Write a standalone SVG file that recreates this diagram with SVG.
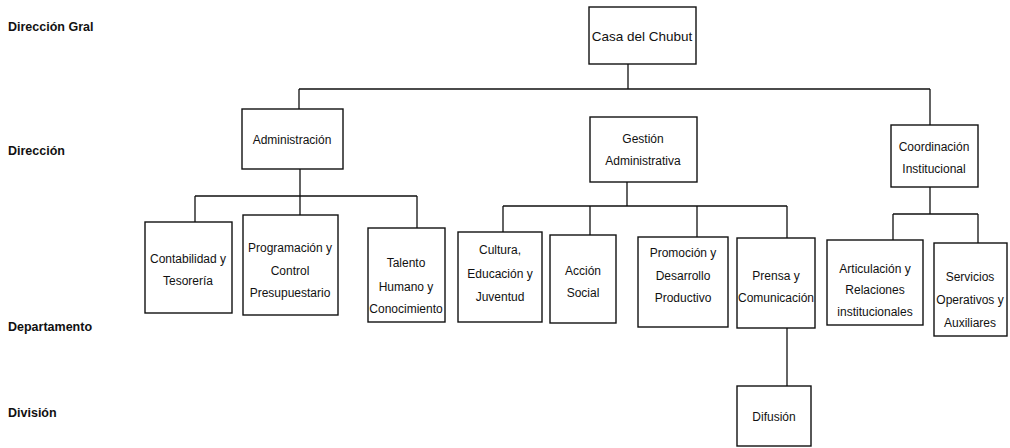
<svg xmlns="http://www.w3.org/2000/svg" width="1010" height="448" viewBox="0 0 1010 448">
<style>
.bx{fill:#fff;stroke:#111;stroke-width:1.4}
.ln{fill:none;stroke:#111;stroke-width:1.3}
.t{font-family:"Liberation Sans",Arial,sans-serif;font-size:12px;fill:#111;text-anchor:middle}
.lv{font-family:"Liberation Sans",Arial,sans-serif;font-size:12.5px;font-weight:bold;fill:#111}
</style>
<rect width="1010" height="448" fill="#fff"/>
<g id="levels">
<text class="lv" x="8" y="31">Dirección Gral</text>
<text class="lv" x="8" y="155">Dirección</text>
<text class="lv" x="8" y="331">Departamento</text>
<text class="lv" x="8" y="417">División</text>
</g>
<g id="connectors">
<path class="ln" d="M628 64V89M299 89H930M299 89V109M930 89V125"/>
<path class="ln" d="M300 169V196M195 196H417M195 196V222M300 196V215M417 196V228"/>
<path class="ln" d="M627 182V206M503 206H787M503 206V232M590 206V235M697 206V237M787 206V238"/>
<path class="ln" d="M930 187V214M893 214H978M893 214V240M978 214V243"/>
<path class="ln" d="M787 328V386"/>
</g>
<g id="casa"><rect class="bx" x="589" y="7" width="107" height="57"/><text class="t" x="642" y="41" style="font-size:13.5px">Casa del Chubut</text></g>
<g id="administracion"><rect class="bx" x="242" y="109" width="101" height="60"/><text class="t" x="292" y="144">Administración</text></g>
<g id="gestion"><rect class="bx" x="590" y="117" width="107" height="65"/><text class="t" x="643" y="143">Gestión</text><text class="t" x="643" y="165">Administrativa</text></g>
<g id="coordinacion"><rect class="bx" x="891" y="125" width="87" height="62"/><text class="t" x="934" y="151">Coordinación</text><text class="t" x="934" y="173">Institucional</text></g>
<g id="contabilidad"><rect class="bx" x="145" y="222" width="87" height="91"/><text class="t" x="188" y="263">Contabilidad y</text><text class="t" x="188" y="285">Tesorería</text></g>
<g id="programacion"><rect class="bx" x="243" y="215" width="95" height="100"/><text class="t" x="290" y="252">Programación y</text><text class="t" x="290" y="275">Control</text><text class="t" x="290" y="297">Presupuestario</text></g>
<g id="talento"><rect class="bx" x="368" y="228" width="77" height="94"/><text class="t" x="406" y="267">Talento</text><text class="t" x="406" y="291">Humano y</text><text class="t" x="406" y="313">Conocimiento</text></g>
<g id="cultura"><rect class="bx" x="458" y="232" width="84" height="90"/><text class="t" x="500" y="254">Cultura,</text><text class="t" x="500" y="278">Educación y</text><text class="t" x="500" y="301">Juventud</text></g>
<g id="accion"><rect class="bx" x="550" y="235" width="66" height="88"/><text class="t" x="583" y="275">Acción</text><text class="t" x="583" y="297">Social</text></g>
<g id="promocion"><rect class="bx" x="638" y="237" width="90" height="90"/><text class="t" x="683" y="257">Promoción y</text><text class="t" x="683" y="280">Desarrollo</text><text class="t" x="683" y="302">Productivo</text></g>
<g id="prensa"><rect class="bx" x="737" y="238" width="78" height="90"/><text class="t" x="776" y="280">Prensa y</text><text class="t" x="776" y="302">Comunicación</text></g>
<g id="articulacion"><rect class="bx" x="827" y="240" width="96" height="85"/><text class="t" x="875" y="273">Articulación y</text><text class="t" x="875" y="294">Relaciones</text><text class="t" x="875" y="316">institucionales</text></g>
<g id="servicios"><rect class="bx" x="934" y="243" width="73" height="93"/><text class="t" x="970" y="281">Servicios</text><text class="t" x="970" y="304">Operativos y</text><text class="t" x="970" y="327">Auxiliares</text></g>
<g id="difusion"><rect class="bx" x="737" y="386" width="74" height="60"/><text class="t" x="774" y="421">Difusión</text></g>
</svg>
